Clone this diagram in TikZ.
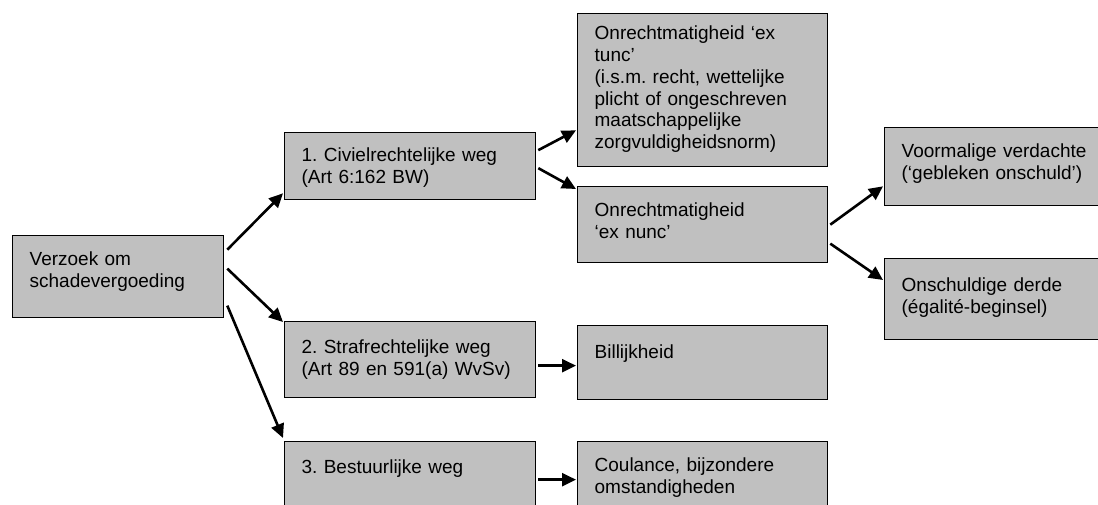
\documentclass[tikz,border=0pt]{standalone}
\usepackage{fontspec}
\setmainfont{Liberation Sans}
\usetikzlibrary{arrows.meta,calc}
\definecolor{boxgray}{HTML}{C0C0C0}
\frenchspacing
\begin{document}
\begin{tikzpicture}[x=1pt,y=-1pt,
  box/.style={draw=black, line width=1.3pt, fill=boxgray, anchor=north west,
    inner xsep=17pt, inner ysep=0pt, align=left,
    font=\fontsize{19pt}{21.8pt}\selectfont\frenchspacing, text height=30pt},
  conn/.style={line width=2.6pt, -{Triangle[length=14pt,width=13pt]}}]
\clip (0,0) rectangle (1098,504);
\fill[white] (0,0) rectangle (1098,504);
% boxes
\node[box, text width=177pt, text depth=52pt] (A) at (12,235) {Verzoek om\\schadevergoeding};
\node[box, text width=217pt, text depth=38pt, text height=29pt] (B1) at (284,132) {1. Civielrechtelijke weg\\(Art 6:162 BW)};
\node[box, text width=217pt, text depth=44pt, text height=32pt] (B2) at (284,321) {2. Strafrechtelijke weg\\(Art 89 en 591(a) WvSv)};
\node[box, text width=217pt, text depth=44pt, text height=32pt] (B3) at (284,441) {3. Bestuurlijke weg};
\node[box, text width=216pt, text depth=127pt, text height=26pt] (C1) at (577,13) {Onrechtmatigheid ‘ex\\tunc’\\(i.s.m. recht, wettelijke\\plicht of ongeschreven\\maatschappelijke\\zorgvuldigheidsnorm)};
\node[box, text width=216pt, text depth=46pt] (C2) at (577,186) {Onrechtmatigheid\\‘ex nunc’};
\node[box, text width=216pt, text depth=41pt, text height=33pt] (C3) at (577,325) {Billijkheid};
\node[box, text width=216pt, text depth=46pt] (C4) at (577,441) {Coulance, bijzondere\\omstandigheden};
\node[box, text width=192pt, text depth=48pt] (D1) at (884,127) {Voormalige verdachte\\(‘gebleken onschuld’)};
\node[box, text width=192pt, text depth=48pt, text height=33pt] (D2) at (884,258) {Onschuldige derde\\(égalité-beginsel)};
% connectors
\draw[conn] ([xshift=3pt,yshift=27pt]A.east) -- ([xshift=-1pt,yshift=7pt]B1.south west);
\draw[conn] ([xshift=3pt,yshift=8pt]A.east) -- ([xshift=-1pt,yshift=-1pt]B2.north west);
\draw[conn] ([xshift=3pt,yshift=-29pt]A.east) -- ([xshift=-1pt,yshift=3pt]B3.north west);
\draw[conn] ([xshift=2pt,yshift=16pt]B1.east) -- ([xshift=-1pt,yshift=37pt]C1.south west);
\draw[conn] ([xshift=2pt,yshift=-2pt]B1.east) -- ([xshift=-1pt,yshift=-3pt]C2.north west);
\draw[conn] ([xshift=2pt,yshift=0pt]C2.east) -- ([xshift=-1pt,yshift=20pt]D1.south west);
\draw[conn] ([xshift=2pt,yshift=-19pt]C2.east) -- ([xshift=-1pt,yshift=-22pt]D2.north west);
\draw[conn] ([xshift=2pt,yshift=-6pt]B2.east) -- ([xshift=-1pt,yshift=-3pt]C3.west);
\draw[conn] ([xshift=2pt]B3.east) -- ([xshift=-1pt]C4.west);
\end{tikzpicture}
\end{document}
